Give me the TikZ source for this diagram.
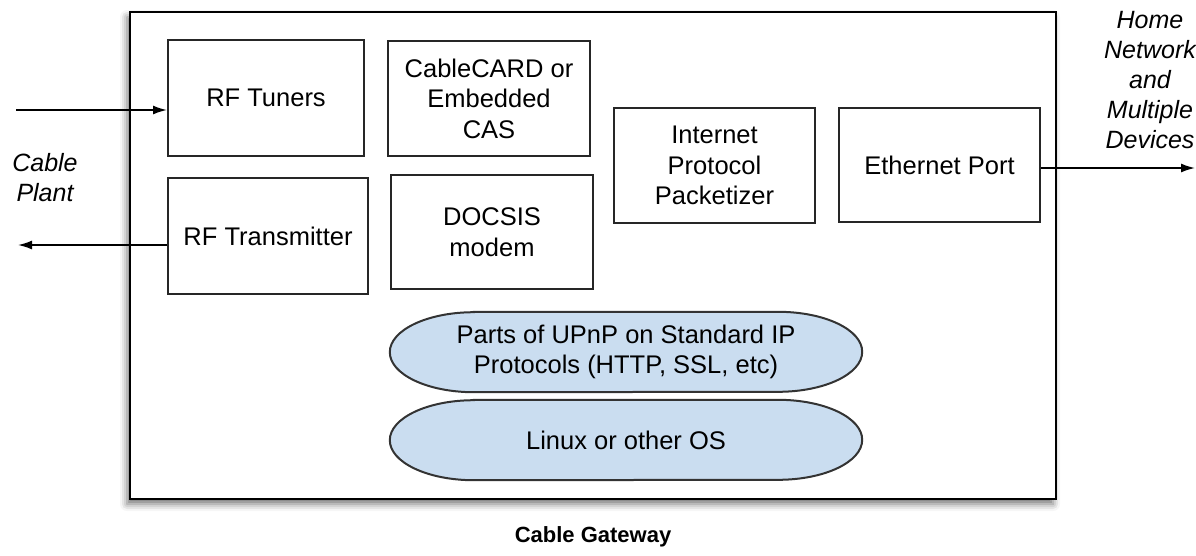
\documentclass[tikz,border=0pt]{standalone}
\usepackage{fontspec}
\setmainfont{Liberation Sans}
\usetikzlibrary{shadows.blur,arrows.meta}
\definecolor{layerblue}{HTML}{CADDF0}
\tikzset{
  block/.style={draw=black!85, line width=2pt, fill=white, align=center,
    font=\fontsize{25.5}{30.5}\selectfont, inner sep=0pt},
  layer/.style={align=center, font=\fontsize{25.5}{30.5}\selectfont, inner sep=0pt},
  layerfill/.style={draw=black!80, line width=2pt, fill=layerblue},
  sidelabel/.style={align=center, font=\fontsize{25}{30}\selectfont\itshape},
  link/.style={line width=1.6pt, -{Latex[length=14pt,width=9pt]}}
}
% outline of a software layer: flat top and bottom, elliptical ends
\newcommand{\layeroutline}[1]{%
  \path[layerfill] ([xshift=84pt]#1.north west) -- ([xshift=-84pt]#1.north east)
    arc[start angle=90, end angle=-90, x radius=84pt, y radius=40pt]
    -- ([xshift=84pt]#1.south west)
    arc[start angle=270, end angle=90, x radius=84pt, y radius=40pt] -- cycle;}
\begin{document}
\begin{tikzpicture}[x=1pt,y=-1pt]
\useasboundingbox (0,0) rectangle (1196,555);
% gateway enclosure
\node[draw=black, line width=2.6pt, fill=white, minimum width=926pt, minimum height=487pt,
  blur shadow={shadow xshift=-3pt, shadow yshift=-5pt, shadow blur radius=7pt, shadow opacity=55}]
  (gw) at (593,255.5) {};
% functional blocks
\node[block, minimum width=196pt, minimum height=116pt] (tuner) at (266,98) {RF Tuners};
\node[block, minimum width=202pt, minimum height=115pt] (cas) at (489,98.5) {CableCARD or\\Embedded\\CAS};
\node[block, minimum width=200pt, minimum height=116pt] (tx) at (268,236) {RF Transmitter};
\node[block, minimum width=202pt, minimum height=114pt] (docsis) at (492,232) {DOCSIS\\modem};
\node[block, minimum width=201pt, minimum height=115pt] (ipp) at (714.5,165.5) {Internet\\Protocol\\Packetizer};
\node[block, minimum width=201pt, minimum height=114pt] (eth) at (939.5,165) {Ethernet Port};
% software layers
\node[layer, minimum width=472pt, minimum height=80pt] (upnp) at (626,352) {};
\node[layer, minimum width=472pt, minimum height=80pt] (os) at (626,440) {};
\layeroutline{upnp}
\layeroutline{os}
\node[layer] at (upnp.center) {Parts of UPnP on Standard IP\\Protocols (HTTP, SSL, etc)};
\node[layer] at (os.center) {Linux or other OS};
% outside labels
\node[sidelabel] (plant) at (45,178) {Cable\\Plant};
\node[sidelabel] (home) at (1150,80) {Home\\Network\\and\\Multiple\\Devices};
\node[font=\fontsize{22}{26}\selectfont\bfseries] (title) at (593,537) {Cable Gateway};
% signal paths
\coordinate (inA) at (16,110);
\coordinate (outA) at (18,245);
\coordinate (homeA) at (1195,168);
\draw[link] (inA) -- (inA -| tuner.west);
\draw[link] (outA -| tx.west) -- (outA);
\draw[link] (homeA -| eth.east) -- (homeA);
\end{tikzpicture}
\end{document}
